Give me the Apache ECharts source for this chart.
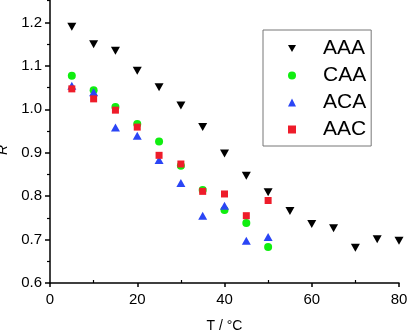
<!DOCTYPE html>
<html>
<head>
<meta charset="utf-8">
<script src="https://cdn.jsdelivr.net/npm/echarts@6/dist/echarts.min.js"></script>
<style>
  html, body { margin: 0; padding: 0; background: #fff; }
  #chart { width: 407px; height: 331px; }
</style>
</head>
<body>
<div id="chart"></div>
<script>
// temperatures (°C)
const tempShort = [5, 10, 15, 20, 25, 30, 35, 40, 45, 50];
const tempLong = [5, 10, 15, 20, 25, 30, 35, 40, 45, 50, 55, 60, 65, 70, 75, 80];

// R values
const rAAA = [1.19, 1.15, 1.135, 1.089, 1.051, 1.009, 0.959, 0.898, 0.847, 0.809, 0.766, 0.736, 0.726, 0.681, 0.701, 0.697];
const rCAA = [1.077, 1.044, 1.005, 0.966, 0.926, 0.870, 0.814, 0.768, 0.738, 0.683];
const rACA = [1.054, 1.039, 0.958, 0.939, 0.883, 0.830, 0.755, 0.778, 0.697, 0.706];
const rAAC = [1.047, 1.024, 0.998, 0.959, 0.894, 0.874, 0.811, 0.805, 0.755, 0.790];

const xMinorTicks = [10, 30, 50, 70];

const font = 'Liberation Sans, Arial, sans-serif';
// downward triangle for the AAA legend entry
const downTriangle = 'path://M0,0L10,0L5,9Z';

function pairs(xs, ys) {
	return ys.map((y, i) => [xs[i], y]);
}

const myChart = echarts.init(document.getElementById('chart'));

const option = {
	animation: false,
	textStyle: { fontFamily: font },
	grid: {
		left: 50,
		right: 8,
		top: -21,
		bottom: 48,
		outerBoundsMode: 'none',
		containLabel: false,
	},
	legend: {
		orient: 'vertical',
		left: 263,
		top: 30,
		padding: [8, 5, 6, 25],
		itemGap: 6,
		itemWidth: 8,
		itemHeight: 8,
		borderColor: '#777',
		borderWidth: 1,
		textStyle: {
			fontSize: 21,
			color: '#000',
			fontFamily: font,
			lineHeight: 21,
			padding: [0, 0, 0, 22],
		},
		data: [
			{ name: 'AAA', icon: downTriangle },
			{ name: 'CAA' },
			{ name: 'ACA' },
			{ name: 'AAC' },
		],
	},
	xAxis: [
		{
			type: 'value',
			min: 0,
			max: 80,
			interval: 20,
			name: 'T / °C',
			nameLocation: 'middle',
			nameGap: 36,
			nameTextStyle: { fontSize: 14, color: '#000', fontFamily: font },
			axisLine: { lineStyle: { color: '#000', width: 1.5 } },
			axisTick: { length: 4, lineStyle: { color: '#000', width: 1.5 } },
			axisLabel: { fontSize: 15, color: '#000', margin: 9, fontFamily: font },
			splitLine: { show: false },
		},
		{
			type: 'value',
			min: 0,
			max: 80,
			position: 'bottom',
			axisLine: { show: false },
			axisTick: {
				inside: true,
				length: 3,
				customValues: xMinorTicks,
				lineStyle: { color: '#000', width: 1.2 },
			},
			axisLabel: { show: false },
			splitLine: { show: false },
		},
	],
	yAxis: {
		type: 'value',
		min: 0.6,
		max: 1.3,
		interval: 0.1,
		name: 'R',
		nameLocation: 'middle',
		nameRotate: 90,
		nameGap: 34,
		nameTextStyle: {
			fontSize: 14,
			fontStyle: 'italic',
			color: '#000',
			fontFamily: font,
			padding: [0, 38, 0, 0],
		},
		axisLine: { lineStyle: { color: '#000', width: 1.5 } },
		axisTick: { length: 5, lineStyle: { color: '#000', width: 1.5 } },
		minorTick: { show: true, splitNumber: 2, length: 3, lineStyle: { color: '#000', width: 1.2 } },
		axisLabel: {
			fontSize: 15,
			color: '#000',
			margin: 8,
			fontFamily: font,
			formatter: v => v.toFixed(1),
		},
		splitLine: { show: false },
	},
	series: [
		{
			name: 'AAA',
			type: 'scatter',
			symbol: 'triangle',
			symbolRotate: 180,
			symbolSize: [9, 8],
			itemStyle: { color: '#000', opacity: 1 },
			data: pairs(tempLong, rAAA),
		},
		{
			name: 'CAA',
			type: 'scatter',
			symbol: 'circle',
			symbolSize: 8,
			itemStyle: { color: '#10ee10', opacity: 1 },
			data: pairs(tempShort, rCAA),
		},
		{
			name: 'ACA',
			type: 'scatter',
			symbol: 'triangle',
			symbolSize: [9, 8],
			itemStyle: { color: '#2a45f5', opacity: 1 },
			data: pairs(tempShort, rACA),
		},
		{
			name: 'AAC',
			type: 'scatter',
			symbol: 'rect',
			symbolSize: 7,
			itemStyle: { color: '#ee1c2a', opacity: 1 },
			data: pairs(tempShort, rAAC),
		},
	],
};

myChart.setOption(option);
</script>
</body>
</html>
